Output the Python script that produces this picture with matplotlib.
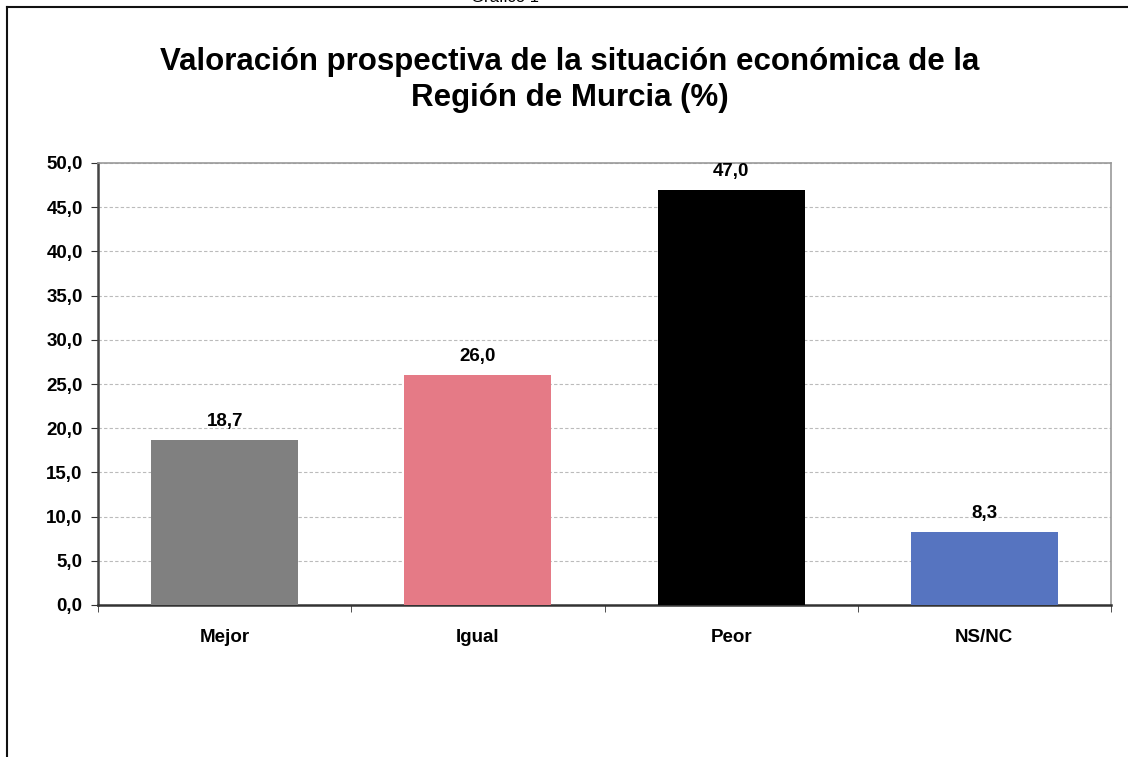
import matplotlib
matplotlib.use("Agg")
import matplotlib.pyplot as plt
from matplotlib.lines import Line2D
from matplotlib.ticker import FuncFormatter, MultipleLocator

categories = ["Mejor", "Igual", "Peor", "NS/NC"]
values = [18.7, 26.0, 47.0, 8.3]
colors = ["#808080", "#E57A86", "#000000", "#5674C0"]
title = "Valoración prospectiva de la situación económica de la\nRegión de Murcia (%)"

plt.rcParams['font.family'] = ['Liberation Sans', 'DejaVu Sans']

W, H = 1128, 757
fig = plt.figure(figsize=(W/100, H/100), dpi=100)
ax = fig.add_axes([98/W, 1-605/H, (1111-98)/W, (605-163)/H])

x = list(range(len(categories)))
ax.bar(x, values, width=0.58, color=colors, zorder=3)
ax.set_xlim(-0.5, len(categories)-0.5)
ax.set_ylim(0, 50)
ax.yaxis.set_major_locator(MultipleLocator(5))
ax.yaxis.set_major_formatter(FuncFormatter(lambda v, p: f"{v:.1f}".replace(".", ",")))
ax.grid(axis='y', color='#BBBBBB', linestyle=(0, (3, 2)), linewidth=0.8, zorder=0)
ax.set_xticks(x)
ax.set_xticklabels(categories, fontsize=13.5, fontweight='bold')
ax.tick_params(axis='x', length=0, pad=17)
ax.set_xticks([i + 0.5 for i in range(-1, len(categories))], minor=True)
ax.tick_params(axis='x', which='minor', length=5, direction='out', color='#333333')
ax.tick_params(axis='y', length=5, direction='out', color='#333333', labelsize=13.5, pad=6)
for lab in ax.get_yticklabels():
    lab.set_fontweight('bold')
ax.spines['left'].set_color('#444444')
ax.spines['left'].set_linewidth(1.8)
ax.spines['bottom'].set_color('#333333')
ax.spines['bottom'].set_linewidth(1.8)
ax.spines['top'].set_color('#999999')
ax.spines['right'].set_color('#999999')
ax.spines['top'].set_linewidth(1.2)
ax.spines['right'].set_linewidth(1.2)

for xi, v in zip(x, values):
    ax.annotate(f"{v:.1f}".replace(".", ","), (xi, v), xytext=(0, 7), textcoords='offset points',
                ha='center', va='bottom', fontsize=13.5, fontweight='bold')

fig.text(570/W, 1-80/H, title, ha='center', va='center', fontsize=22.5, fontweight='bold', linespacing=1.3)
fig.text(505/W, 1-(-3)/H, "Gráfico 1", ha='center', va='center', fontsize=12)

fig.add_artist(Line2D([7/W, 1.0], [1-7/H, 1-7/H], transform=fig.transFigure, color='#111111', linewidth=1.5))
fig.add_artist(Line2D([7/W, 7/W], [0, 1-7/H], transform=fig.transFigure, color='#111111', linewidth=1.5))

fig.savefig("out.png", dpi=100)
